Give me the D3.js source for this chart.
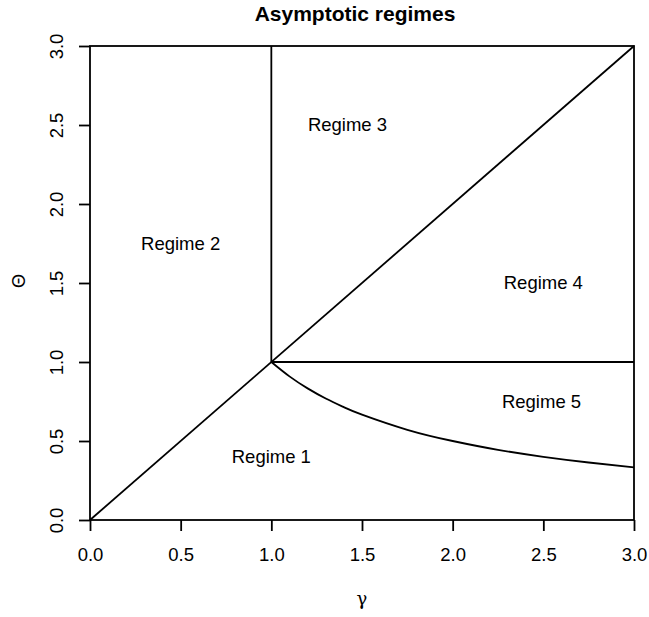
<!DOCTYPE html>
<html><head><meta charset="utf-8">
<script src="https://cdn.jsdelivr.net/npm/d3@7"></script>
<style>body{margin:0;background:#fff}svg{display:block}</style>
</head><body>
<script>
const title = "Asymptotic regimes";
const xTicks = [0, 0.5, 1, 1.5, 2, 2.5, 3];
const yTicks = [0, 0.5, 1, 1.5, 2, 2.5, 3];
// boundary lines [gamma, theta]
const diagonal = [[0, 0], [3, 3]];
const vertical = [[1, 1], [1, 3]];
const horizontal = [[1, 1], [3, 1]];
const curveGamma = [1, 1.1, 1.2, 1.3, 1.4, 1.5, 1.75, 2, 2.25, 2.5, 2.75, 3];
const curveTheta = [1, 0.909, 0.833, 0.769, 0.714, 0.667, 0.571, 0.5, 0.444, 0.4, 0.364, 0.333];
const regimeNames = ["Regime 1", "Regime 2", "Regime 3", "Regime 4", "Regime 5"];
const regimeGamma = [1.0, 0.5, 1.42, 2.5, 2.49];
const regimeTheta = [0.4, 1.75, 2.5, 1.5, 0.75];

const W = 649, H = 617;
const L = 90, R = 634, T = 46, B = 520;
const svg = d3.select("body").append("svg").attr("width", W).attr("height", H)
  .style("font-family", "'Liberation Sans', Arial, sans-serif");
const x = d3.scaleLinear().domain([0, 3]).range([L, R]);
const y = d3.scaleLinear().domain([0, 3]).range([B, T]);

const lw = 1.8;
const fs = 18.5;
svg.append("rect").attr("x", L).attr("y", T).attr("width", R - L).attr("height", B - T)
  .attr("fill", "none").attr("stroke", "#000").attr("stroke-width", lw);

const xa = svg.append("g").attr("transform", `translate(0,${B})`)
  .call(d3.axisBottom(x).tickValues(xTicks).tickFormat(d3.format(".1f")).tickSize(11).tickPadding(0));
xa.select(".domain").remove();
xa.selectAll("line").attr("stroke-width", lw);
xa.selectAll("text").attr("font-size", fs).attr("fill", "#000").attr("dy", null).attr("y", 41);

const ya = svg.append("g").attr("transform", `translate(${L},0)`)
  .call(d3.axisLeft(y).tickValues(yTicks).tickFormat(d3.format(".1f")).tickSize(11));
ya.select(".domain").remove();
ya.selectAll("line").attr("stroke-width", lw);
ya.selectAll("text").remove();
ya.selectAll(".tick").append("text")
  .attr("transform", "translate(-33,0) rotate(-90)")
  .attr("text-anchor", "middle").attr("dy", "0.35em")
  .attr("font-size", fs).attr("fill", "#000")
  .text(d => d3.format(".1f")(d));

const line = d3.line().x(d => x(d[0])).y(d => y(d[1]));
const curve = curveGamma.map((g, i) => [g, curveTheta[i]]);
[diagonal, vertical, horizontal].forEach(seg =>
  svg.append("path").attr("d", line(seg)).attr("fill", "none").attr("stroke", "#000").attr("stroke-width", lw));
svg.append("path").attr("d", d3.line().x(d => x(d[0])).y(d => y(d[1])).curve(d3.curveNatural)(curve))
  .attr("fill", "none").attr("stroke", "#000").attr("stroke-width", lw);

regimeNames.forEach((n, i) => {
  svg.append("text").attr("x", x(regimeGamma[i])).attr("y", y(regimeTheta[i]))
    .attr("text-anchor", "middle").attr("dy", "0.35em").attr("font-size", fs).text(n);
});

svg.append("text").attr("x", 355).attr("y", 21).attr("text-anchor", "middle")
  .attr("font-size", 21).attr("font-weight", "bold").text(title);
svg.append("text").attr("x", 362).attr("y", 599).attr("text-anchor", "middle").attr("dy", "0.35em")
  .attr("font-family", "'DejaVu Serif', serif").attr("font-size", 18).text("γ");
svg.append("text").attr("transform", `translate(19,281) rotate(-90)`)
  .attr("text-anchor", "middle").attr("dy", "0.35em")
  .attr("font-family", "'Liberation Sans', Arial, sans-serif").attr("font-size", 18).text("Θ");
</script>
</body></html>
